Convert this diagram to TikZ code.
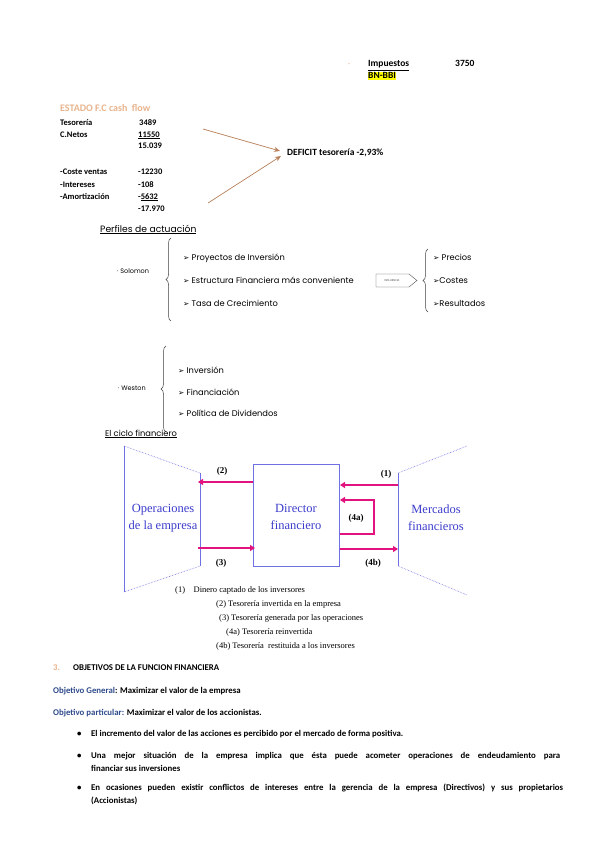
\documentclass[tikz,border=0pt]{standalone}
\usepackage{fontspec}
\setmainfont{Carlito}
\newfontfamily\comicf{Poppins}
\newfontfamily\dejavuf{DejaVu Sans}
\newfontfamily\timesf{Liberation Serif}
\usetikzlibrary{arrows.meta,decorations.pathreplacing}
\definecolor{tan}{HTML}{E8B48E}
\definecolor{brownarr}{HTML}{B8805A}
\definecolor{mag}{HTML}{E2137F}
\definecolor{trap}{HTML}{7070E6}
\definecolor{bluetxt}{HTML}{3C3CCC}
\definecolor{objblue}{HTML}{2F4B8C}
\definecolor{hl}{HTML}{FFFF00}
\newcommand{\arr}{{\dejavuf\fontsize{7.5}{8}\selectfont ➢}}
\tikzset{
  txt/.style={anchor=base west,inner sep=0pt,font=\fontsize{8.5}{9}\selectfont},
  btxt/.style={txt,font=\fontsize{8.5}{9}\selectfont\bfseries},
  bbtxt/.style={txt,font=\fontsize{8.8}{10}\selectfont\bfseries},
  ctxt/.style={anchor=base west,inner sep=0pt,font=\comicf\fontsize{8.3}{9}\selectfont,text=black},
  ttxt/.style={anchor=base west,inner sep=0pt,font=\timesf\fontsize{8.5}{9}\selectfont},
  dtxt/.style={align=center,inner sep=0pt,font=\timesf\fontsize{12.5}{17}\selectfont,text=bluetxt},
  brarrow/.style={draw=brownarr,line width=0.7pt,-{Stealth[length=6pt,width=5pt]}},
  magarrow/.style={draw=mag,line width=1.8pt,-{Triangle[length=5pt,width=6pt]}},
  trapsolid/.style={draw=trap,line width=0.8pt},
  trapdot/.style={draw=trap,line width=0.6pt,densely dotted},
  brc/.style={draw=black!75,line width=0.5pt,decorate,decoration={brace,amplitude=5pt}},
  num/.style={inner sep=0pt,font=\timesf\fontsize{9}{10}\selectfont\bfseries}
}
\begin{document}
\begin{tikzpicture}[x=1pt,y=-1pt]
\useasboundingbox[fill=white] (0,0) rectangle (599,848);
% top right
\node[txt,text=tan] (dot) at (348,67) {·};
\node[btxt,font=\fontsize{9.5}{10}\selectfont\bfseries] (imp) at (368,67) {\underline{Impuestos}};
\node[btxt,font=\fontsize{9.5}{10}\selectfont\bfseries] (imp2) at (455,67) {3750};
\node[btxt,font=\fontsize{9.5}{10}\selectfont\bfseries,fill=hl,inner ysep=1pt] (bn) at (368,79) {BN-BBI};
% cash flow
\node[btxt,font=\fontsize{10}{11}\selectfont\bfseries,text=tan] (est) at (60,112) {ESTADO F.C cash\ \ flow};
\node[btxt] (l1) at (60,125) {Tesorería};
\node[btxt] (v1) at (139,125) {3489};
\node[btxt] (l2) at (60,137) {C.Netos};
\node[btxt] (v2) at (138,137) {\underline{11550}};
\node[btxt] (v3) at (138,149) {15.039};
\node[btxt] (l4) at (60,174) {-Coste ventas};
\node[btxt] (v4) at (138,174) {-12230};
\node[btxt] (l5) at (60,187) {-Intereses};
\node[btxt] (v5) at (138,187) {-108};
\node[btxt] (l6) at (60,199) {-Amortización};
\node[btxt] (v6) at (138,199) {-\underline{5632}};
\node[btxt] (v7) at (138,211) {-17.970};
\node[btxt,font=\fontsize{9.5}{10}\selectfont\bfseries] (def) at (287,155) {DEFICIT tesorería -2,93\%};
\coordinate (a1) at (203,129);
\coordinate (a2) at (208,203);
\coordinate (t1) at (280,151);
\coordinate (t2) at (281,156);
\draw[brarrow] (a1) -- (t1);
\draw[brarrow] (a2) -- (t2);
% Perfiles
\node[ctxt,font=\comicf\fontsize{9.2}{10}\selectfont] (perf) at (100,232) {\underline{Perfiles de actuación}};
\node[ctxt,font=\comicf\fontsize{6.5}{7}\selectfont] (sol) at (117,273) {· Solomon};
\coordinate (b1a) at (171,321);
\coordinate (b1b) at (171,238);
\draw[brc] (b1a) -- (b1b);
\node[ctxt] (s1) at (183,260) {\arr{} Proyectos de Inversión};
\node[ctxt] (s2) at (183,283) {\arr{} Estructura Financiera más conveniente};
\node[ctxt] (s3) at (183,306) {\arr{} Tasa de Crecimiento};
\draw[black!70,line width=0.4pt] (376,274) -- (409,274) -- (417,280.5) -- (409,287) -- (376,287) -- cycle;
\node[inner sep=0pt,font=\fontsize{3}{3}\selectfont,text=black!70] (infl) at (392,280.5) {INFLUENCIA};
\coordinate (b2a) at (428,312);
\coordinate (b2b) at (428,249);
\draw[brc] (b2a) -- (b2b);
\node[ctxt] (p1) at (433,260) {\arr{} Precios};
\node[ctxt] (p2) at (433,283) {\arr{}Costes};
\node[ctxt] (p3) at (433,306) {\arr{}Resultados};
% Weston
\node[ctxt,font=\comicf\fontsize{6.5}{7}\selectfont] (wes) at (118,390) {· Weston};
\coordinate (b3a) at (166,432);
\coordinate (b3b) at (166,346);
\draw[brc] (b3a) -- (b3b);
\node[ctxt] (w1) at (178,373) {\arr{} Inversión};
\node[ctxt] (w2) at (178,395) {\arr{} Financiación};
\node[ctxt] (w3) at (178,416) {\arr{} Política de Dividendos};
\node[ctxt,font=\comicf\fontsize{8.3}{9}\selectfont,text=black] (ciclo) at (105,436) {\underline{El ciclo financiero}};
% cycle diagram
\coordinate (L1) at (124,446);
\coordinate (L2) at (200,473);
\coordinate (L3) at (200,566);
\coordinate (L4) at (124,592);
\draw[trapsolid] (L1) -- (L4);
\draw[trapsolid] (L2) -- (L3);
\draw[trapdot] (L1) -- (L2);
\draw[trapdot] (L3) -- (L4);
\coordinate (R1) at (467,446);
\coordinate (R2) at (398,473);
\coordinate (R3) at (398,566);
\coordinate (R4) at (467,595);
\draw[trapsolid] (R2) -- (R3);
\draw[trapdot] (R2) -- (R1);
\draw[trapdot] (R3) -- (R4);
\node[draw=trap,line width=0.8pt,minimum width=86pt,minimum height=102pt,inner sep=0pt] (dir) at (296,515) {};
\node[dtxt] (dirt) at (296,517) {Director\\financiero};
\node[dtxt] (ope) at (163,518) {Operaciones\\de la empresa};
\node[dtxt] (mer) at (436,518) {Mercados\\financieros};
% magenta arrows
\coordinate (c2s) at (253,482);
\coordinate (c2e) at (198,482);
\draw[magarrow] (c2s) -- (c2e);
\node[num] (n2) at (222,471) {(2)};
\coordinate (c3s) at (198,548);
\coordinate (c3e) at (255,548);
\draw[magarrow] (c3s) -- (c3e);
\node[num] (n3) at (221,563) {(3)};
\coordinate (c1s) at (398,485);
\coordinate (c1e) at (340,485);
\draw[magarrow] (c1s) -- (c1e);
\node[num] (n1) at (386,474) {(1)};
\coordinate (c4s) at (340,534);
\coordinate (c4m1) at (374,534);
\coordinate (c4m2) at (374,500);
\coordinate (c4e) at (340,500);
\draw[magarrow] (c4s) -- (c4m1) -- (c4m2) -- (c4e);
\node[num] (n4a) at (356,518) {(4a)};
\coordinate (c5s) at (340,549);
\coordinate (c5e) at (398,549);
\draw[magarrow] (c5s) -- (c5e);
\node[num] (n4b) at (373,563) {(4b)};
% legend
\node[ttxt] (g1) at (175,592) {(1)\quad Dinero captado de los inversores};
\node[ttxt] (g2) at (216,606) {(2) Tesorería invertida en la empresa};
\node[ttxt] (g3) at (219,620) {(3) Tesorería generada por las operaciones};
\node[ttxt] (g4) at (226,634) {(4a) Tesorería reinvertida};
\node[ttxt] (g5) at (216,648) {(4b) Tesorería\ \ restituida a los inversores};
% objetivos
\node[bbtxt,text=tan] (n3t) at (53,670) {3.};
\node[bbtxt] (obj) at (73,670) {OBJETIVOS DE LA FUNCION FINANCIERA};
\node[bbtxt] (og) at (53,693) {\textcolor{objblue}{Objetivo General}: Maximizar el valor de la empresa};
\node[bbtxt] (op) at (53,715) {\textcolor{objblue}{Objetivo particular:} Maximizar el valor de los accionistas.};
\node[bbtxt] (d1) at (77,736) {•};
\node[bbtxt] (e1) at (91,736) {El incremento del valor de las acciones es percibido por el mercado de forma positiva.};
\node[bbtxt] (d2) at (77,758) {•};
\node[bbtxt] (e2) at (91,758) {\makebox[469pt][s]{Una mejor situación de la empresa implica que ésta puede acometer operaciones de endeudamiento para}};
\node[bbtxt] (e2b) at (91,771) {financiar sus inversiones};
\node[bbtxt] (d3) at (77,790) {•};
\node[bbtxt] (e3) at (91,790) {\makebox[472pt][s]{En ocasiones pueden existir conflictos de intereses entre la gerencia de la empresa (Directivos) y sus propietarios}};
\node[bbtxt] (e3b) at (91,803) {(Accionistas)};
\end{tikzpicture}
\end{document}
